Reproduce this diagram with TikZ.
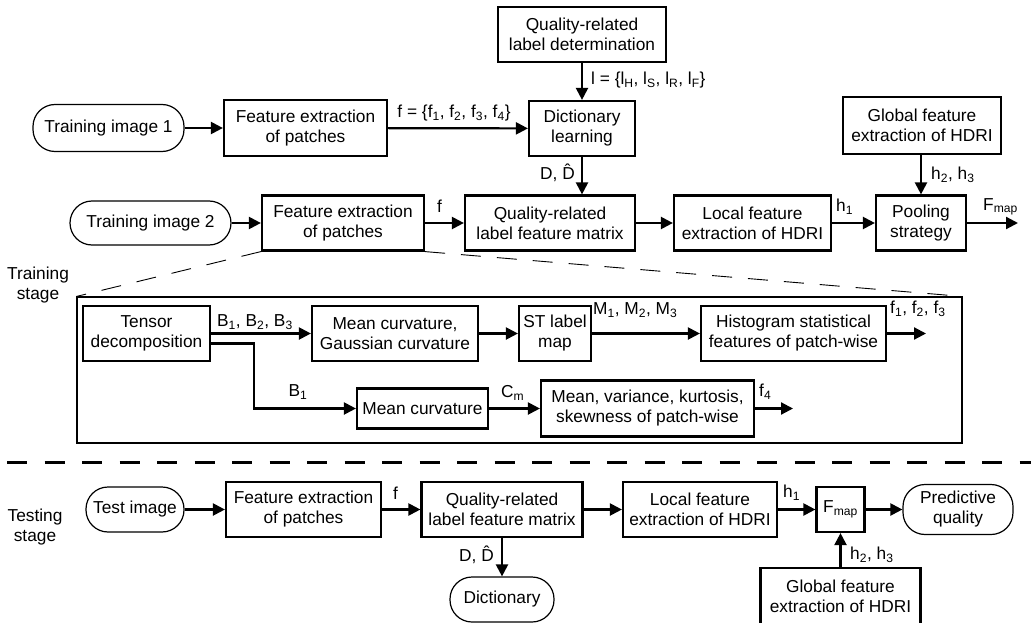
\documentclass[tikz,border=0pt]{standalone}
\usepackage{fontspec}
\setmainfont{Liberation Sans}
\usetikzlibrary{arrows.meta}
\begin{document}
\begin{tikzpicture}[x=1pt,y=-1pt,
  every node/.style={font=\fontsize{17.3}{20}\selectfont, inner sep=0pt},
  blk/.style={draw, line width=2.2pt, align=center},
  term/.style={draw, line width=1.2pt, rounded corners=22pt, align=center},
  arr/.style={line width=2.2pt, -{Triangle[length=12pt,width=12pt]}},
  zoomline/.style={line width=0.9pt, dash pattern=on 20pt off 16pt},
  sepline/.style={line width=3pt, dash pattern=on 20pt off 17.5pt},
  bigbox/.style={draw, line width=1.1pt},
  lbl/.style={align=center}
]
\useasboundingbox (0,0) rectangle (1031,623);

% ---------- training, top rows ----------
\node[term, minimum width=151pt, minimum height=47pt] (ti1) at (108.5,128) {Training image 1};
\node[blk, minimum width=163pt, minimum height=56pt] (fe1) at (305.5,128) {Feature extraction\\of patches};
\node[blk, minimum width=168pt, minimum height=55pt] (qrld) at (582,34.5) {Quality-related\\label determination};
\node[blk, minimum width=106pt, minimum height=55pt] (dict) at (582,128.5) {Dictionary\\learning};
\node[blk, minimum width=158pt, minimum height=57pt] (gtop) at (922,125.5) {Global feature\\extraction of HDRI};

\node[term, minimum width=161pt, minimum height=44pt] (ti2) at (150.5,223) {Training image 2};
\node[blk, minimum width=162pt, minimum height=55pt] (fe2) at (343,223) {Feature extraction\\of patches};
\node[blk, minimum width=170pt, minimum height=55pt] (qr1) at (550,223) {Quality-related\\label feature matrix};
\node[blk, minimum width=157pt, minimum height=55pt] (loc1) at (752.5,223) {Local feature\\extraction of HDRI};
\node[blk, minimum width=90pt, minimum height=55pt] (pool) at (921,223) {Pooling\\strategy};
\coordinate (fend) at (1018,223);

\draw[arr] (ti1) -- (fe1);
\draw[arr] (fe1) -- (dict);
\draw[arr] (qrld) -- (dict);
\draw[arr] (dict.south) -- (dict.south |- qr1.north);
\draw[arr] (pool |- gtop.south) -- (pool.north);
\draw[arr] (ti2) -- (fe2);
\draw[arr] (fe2) -- (qr1);
\draw[arr] (qr1) -- (loc1);
\draw[arr] (loc1) -- (pool);
\draw[arr] (pool.east) -- (fend);

\node[lbl] (lf) at (454,113) {f = \{f\textsubscript{1}, f\textsubscript{2}, f\textsubscript{3}, f\textsubscript{4}\}};
\node[lbl, anchor=west] (ll) at (591,80) {l = \{l\textsubscript{H}, l\textsubscript{S}, l\textsubscript{R}, l\textsubscript{F}\}};
\node[lbl, anchor=east] (ld) at (575,173) {D, \^{D}};
\node[lbl, anchor=west] (lf2) at (437,206) {f};
\node[lbl, anchor=west] (lh1) at (836,207) {h\textsubscript{1}};
\node[lbl, anchor=west] (lh23) at (931,175) {h\textsubscript{2}, h\textsubscript{3}};
\node[lbl, anchor=west] (lfm) at (983,207) {F\textsubscript{map}};

\node[lbl] (trst) at (38,285) {Training\\stage};

% ---------- zoomed box ----------
\node[bigbox, minimum width=885pt, minimum height=146pt] (big) at (519.5,370) {};
\draw[zoomline] (fe2.south west) -- (big.north west);
\draw[zoomline] (fe2.south east) -- (big.north east);

\node[blk, minimum width=127pt, minimum height=55pt] (tens) at (146.5,333.5) {Tensor\\decomposition};
\node[blk, minimum width=166pt, minimum height=55pt] (mcg) at (395,333.5) {Mean curvature,\\Gaussian curvature};
\node[blk, minimum width=72pt, minimum height=55pt] (st) at (555,333.5) {ST label\\map};
\node[blk, minimum width=185pt, minimum height=55pt] (hist) at (793.5,333.5) {Histogram statistical\\features of patch-wise};
\coordinate (f123end) at (926,333.5);
\node[blk, minimum width=131pt, minimum height=40pt] (mc) at (422.5,408.5) {Mean curvature};
\node[blk, minimum width=213pt, minimum height=56pt] (mvk) at (647.5,408.5) {Mean, variance, kurtosis,\\skewness of patch-wise};
\coordinate (f4end) at (793,408.5);
\coordinate (bend) at (254,343.5);

\draw[arr] (tens) -- (mcg);
\draw[arr] (mcg) -- (st);
\draw[arr] (st) -- (hist);
\draw[arr] (hist.east) -- (f123end);
\draw[arr] ([yshift=-10pt]tens.east) -- (bend) |- (mc.west);
\draw[arr] (mc) -- (mvk);
\draw[arr] (mvk.east) -- (f4end);

\node[lbl, anchor=west] (lb123) at (217,322) {B\textsubscript{1}, B\textsubscript{2}, B\textsubscript{3}};
\node[lbl] (lb1) at (298,392) {B\textsubscript{1}};
\node[lbl, anchor=west] (lm123) at (593,310) {M\textsubscript{1}, M\textsubscript{2}, M\textsubscript{3}};
\node[lbl, anchor=west] (lf123) at (890,309) {f\textsubscript{1}, f\textsubscript{2}, f\textsubscript{3}};
\node[lbl, anchor=west] (lcm) at (501,393) {C\textsubscript{m}};
\node[lbl, anchor=west] (lf4) at (759,392) {f\textsubscript{4}};

% ---------- separator ----------
\coordinate (sepL) at (7,462);
\coordinate (sepR) at (1031,462);
\draw[sepline] (sepL) -- (sepR);

% ---------- testing ----------
\node[lbl] (tsst) at (35,527) {Testing\\stage};
\node[term, minimum width=98pt, minimum height=45pt] (test) at (135,509.5) {Test image};
\node[blk, minimum width=155pt, minimum height=55pt] (fe3) at (303.5,509.5) {Feature extraction\\of patches};
\node[blk, minimum width=161pt, minimum height=55pt] (qr2) at (502,509.5) {Quality-related\\label feature matrix};
\node[blk, minimum width=154pt, minimum height=55pt] (loc2) at (700,509.5) {Local feature\\extraction of HDRI};
\node[blk, minimum width=48pt, minimum height=45pt] (fmap) at (840.5,509.5) {F\textsubscript{map}};
\node[term, minimum width=110pt, minimum height=50pt] (pq) at (958,509.5) {Predictive\\quality};
\node[term, minimum width=104pt, minimum height=45pt] (dict2) at (502,599.5) {Dictionary};
\node[blk, minimum width=160pt, minimum height=57pt] (gbot) at (840.5,596.5) {Global feature\\extraction of HDRI};

\draw[arr] (test) -- (fe3);
\draw[arr] (fe3) -- (qr2);
\draw[arr] (qr2) -- (loc2);
\draw[arr] (loc2) -- (fmap);
\draw[arr] (fmap) -- (pq);
\draw[arr] (qr2) -- (dict2);
\draw[arr] (gbot) -- (fmap);

\node[lbl, anchor=west] (lf3) at (393,493) {f};
\node[lbl, anchor=west] (lh1b) at (783,493) {h\textsubscript{1}};
\node[lbl, anchor=west] (lh23b) at (850,555) {h\textsubscript{2}, h\textsubscript{3}};
\node[lbl, anchor=east] (ldb) at (494,555) {D, \^{D}};
\end{tikzpicture}
\end{document}
